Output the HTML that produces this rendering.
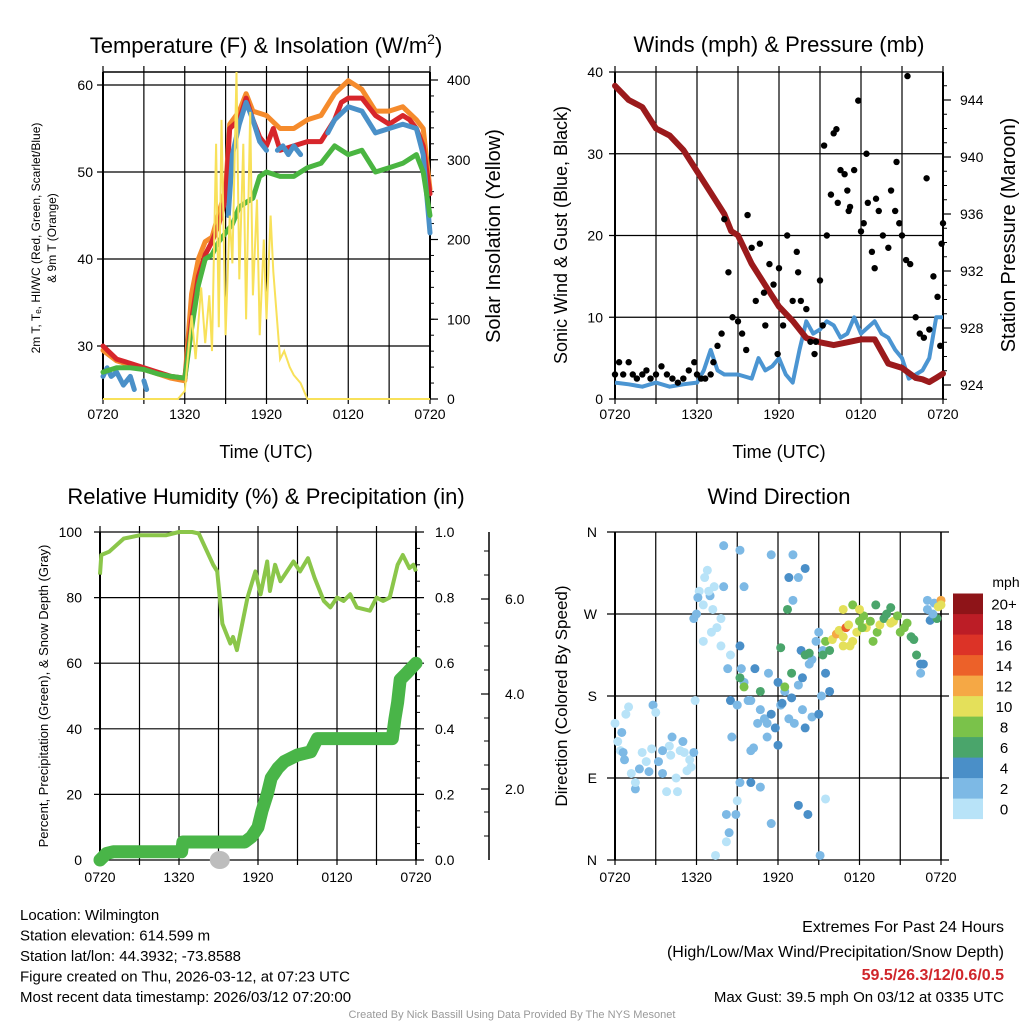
<!DOCTYPE html>
<html><head><meta charset="utf-8"><style>
html,body{margin:0;padding:0;background:#fff}
svg{display:block;font-family:"Liberation Sans",Arial,sans-serif}
</style></head><body>
<svg id="s" width="1024" height="1024" viewBox="0 0 1024 1024">
<g id="g"></g>
</svg>
<script>
// ---------- DATA ----------
const xTicks=["0720","1320","1920","0120","0720"];
// Temperature panel (hour since 0720, value)
const redH=[0,1,2,3,4,5,6,6.5,7,7.5,8,8.5,9,9.3,10,10.5,11,11.5,12,12.5,13,14,15,16,17,17.5,18,19,20,21,22,22.5,23,23.5,24];
const redV=[30,28.5,28,27.5,27,26.5,26.3,33,38,40.5,42,44,47,55,56,58.5,56,54,53,55,52.5,53,53.5,53.5,56,58,58.5,58.5,56.5,55.5,56.5,56,55,53,47.5];
const orgH=[0,1,2,3,4,5,6,6.5,7,7.5,8,9,9.3,10,10.5,11,12,13,14,15,16,17,18,19,20,21,22,23,23.5,24];
const orgV=[29.5,28.3,27.8,27.3,26.8,26.3,26,36,40,42,42.5,48,55.5,57,59,57,56.5,55,55,56,56.5,59,60.5,59.5,57,57,57.5,56,55,48];
const grnH=[0,1,2,3,4,5,6,6.5,7,7.5,8,8.5,9,9.5,10,11,11.5,12,13,14,15,16,17,18,19,20,21,22,23,23.5,24];
const grnV=[27,27.5,27.5,27.3,26.8,26.5,26.3,32,37,40,40.5,42,43,44,46,47,49.5,50,49.5,49.5,50.5,51,53,52,52.5,50,50.5,51,52,50,45];
const bluH=[0,0.3,0.6,1,1.5,2,2.3,null,3,3.2,null,9.2,9.5,10,10.5,11,11.5,12,null,12.8,13.2,13.6,14,14.5,null,16.5,17,18,19,20,21,22,23,23.5,24];
const bluV=[26.5,27.5,26.5,27,25.5,26.5,25,null,26,25,null,45,52,55.5,58,56,53.5,52.5,null,52.5,53,52,53,52,null,54.5,56,57.5,57,54.5,55,55.5,55,52,43];
const solH=[0,5.5,6,6.5,6.8,7.2,7.5,7.8,8,8.3,8.5,8.7,9,9.3,9.5,9.8,10,10.3,10.5,10.8,11,11.3,11.5,11.8,12,12.3,12.5,13,13.3,13.7,14,14.5,15,24];
const solV=[0,0,10,105,50,140,70,130,60,320,90,350,80,230,170,410,150,320,100,360,130,250,80,200,100,230,160,50,60,40,30,20,0,0];
// Winds panel
const windH=[0,1,2,3,4,5,6,6.5,7,7.5,8,9,10,10.5,11,11.5,12,12.5,13,13.5,14,14.5,15,15.5,16,16.5,17,17.5,18,19,19.5,20,20.5,21,21.5,22,22.5,23,23.5,24];
const windV=[2,1.8,1.5,2,1.5,1.8,2,3.5,6,3.5,3,3,2.5,5,3.5,4,5,3,2,6,9.5,8,8.5,9.5,9,7.5,8,10,8,9.5,8,7.5,6,5,2.5,3,3.5,5,10,10];
const gustH=[0,0.3,0.6,1,1.3,1.6,2,2.3,2.6,3,3.4,3.8,4.2,4.6,5,5.4,5.8,6,6.3,6.6,7,7.2,7.5,7.8,8,8.3,8.6,9,9.3,9.6,10,10.3,10.6,11,11.3,11.6,12,12.3,12.6,13,13.3,13.6,14,14.3,14.6,15,15.2,15.5,15.8,16,16.2,16.5,16.8,17,17.2,17.5,17.8,18,18.2,18.5,18.8,19,19.3,19.6,20,20.2,20.5,20.8,21,21.3,21.6,22,22.3,22.6,23,23.3,23.6,23.9,24,15.3,16.3,17.1,18.4,19.1,20.6,21.4,22.8,23.8,9.7,11.9,13.4,14.7,10.9];
const gustV=[3,4.5,3,4.5,3,2.5,3,3.5,2.5,3,4,3,2.5,2,2.5,3.5,4.5,3,2.5,2.5,3,4.5,6.5,8,22,15.5,10,9.5,8,6,18.5,12,19,9,16.5,14,16,9,20,12,18,12,11,7,5.5,14.5,9,20,25,32.5,33,28,27.5,25.5,23.5,28,36.5,20.5,21.5,24,18,16,23,20,18.5,25.5,23,21.5,20,17,16.5,10,8,7.5,8.5,15,12.5,19,21.5,31,24,23,30,24.5,29,39.5,27,6.5,22.5,5.5,15.5,7,13];
const presH=[0,1,2,3,4,5,6,7,8,8.5,9,10,11,12,13,14,15,16,17,18,19,20,21,22,22.5,23,23.5,24];
const presV=[945,944,943.5,942,941.5,940.5,939,937.5,936,934.8,934.5,932.5,931,929.5,928.5,927.3,927,926.8,927,927.2,927.2,925.5,925.2,924.5,924.4,924.2,924.5,924.8];
// RH / precip panel
const rhH=[0,0.1,0.7,1.8,3,5,6,7,7.5,8.6,8.9,9.3,9.9,10.1,10.4,11.2,11.8,12.2,12.7,12.9,13.3,13.7,14.2,14.7,15.2,15.8,16.3,17,17.5,18,18.5,19,19.5,20.5,21,21.5,22,22.6,23,23.5,23.8,24];
const rhV=[87,93,94,98,99,99,100,100,99.5,90,88,72,66,68,64,80,88,81,91,82,90,85,88,91,88,92,86,79,77,80,79,81,77,76,80,79,80,90,93,89,90,88];
const prH=[0,0.5,1,6.2,6.3,11,11.5,12,12.3,12.7,13,13.5,14,15,16,16.5,22.2,22.4,22.6,22.8,23.3,24];
const prV=[0,0.02,0.025,0.025,0.055,0.055,0.07,0.1,0.15,0.2,0.25,0.28,0.3,0.32,0.33,0.37,0.37,0.43,0.48,0.55,0.57,0.6];
const snowH=[9.1], snowV=[0];
// Wind direction panel
const dirH=[0,0.2,0.4,0.6,0.8,1,0.5,1.2,1.5,1.8,2,2.3,2.8,3,2.5,3.2,3.5,3.8,4,4.2,4.5,4.6,4.8,5,5.3,5.5,5.1,5.8,5.9,1.5,2.7,3.5,0.7,4.1,5.6,
5.8,6,6.2,6.1,6.5,6.6,6.8,7,7.2,7.5,7.8,7.1,6.5,7.8,8,7.3,6.9,8.5,8.3,8,9.2,9.5,11.5,13.1,13.5,13.1,12.8,14,
8.5,9,9.2,9.3,9.5,9.8,10,10.3,10.5,10.7,11,11.2,11.5,11.8,11.3,12,12.2,12.5,12.8,12.3,13,13.2,13.5,13.8,14,14.5,14.8,15,15.3,13.7,13.8,14.3,15.5,15.8,15.2,14.5,15,8.6,10,10.2,11.2,12,9.2,10,10.7,13.5,14.2,15.5,8.2,8.9,8.4,8.2,9,7.4,11.5,15.1,
9.2,9.5,12.5,13,14,10.7,12.7,12.2,14.3,
15.3,15.5,16,16.3,16.5,16.8,17,17.2,17.5,17.8,18,18.3,18.5,18.8,19,19.3,19.5,19.8,20,20.3,20.5,20.8,21,21.3,21.5,21.8,22,22.2,17.5,18,16.8,15.8,16.8,17.3,18.2,19.2,20.3,22.5,22.7,22.5,23,23.2,23.5,23.8,24,23.7,24,23.4,23];
const dirV=[150,130,120,118,160,168,140,95,78,100,118,108,170,162,97,108,95,75,125,135,90,75,120,130,98,110,118,118,175,85,122,120,110,115,102,
265,270,295,288,280,310,318,290,275,255,265,250,240,235,345,300,295,225,210,300,340,300,335,335,310,285,310,320,
175,170,235,210,195,175,175,210,150,165,155,150,160,145,205,195,170,185,155,172,178,150,192,165,145,220,240,250,230,230,200,215,205,185,180,157,160,135,120,123,135,126,85,85,80,60,50,67,50,50,30,20,65,5,40,5,
200,190,190,205,225,185,275,233,227,
225,240,242,248,252,245,255,258,240,250,262,268,255,262,240,250,258,265,270,277,262,268,250,255,260,245,242,225,280,275,275,230,235,235,255,280,260,215,215,205,275,263,282,278,285,265,280,270,285];
const dirS=[1,1,1,2,1,0,2,1,2,2,0,1,2,1,2,3,2,0,0,2,0,1,1,2,1,0,1,3,0,1,1,2,3,0,1,
2,3,1,2,0,0,1,2,0,0,0,1,1,0,2,0,1,1,2,3,2,3,2,2,2,3,4,4,
4,2,4,2,3,3,3,4,2,3,2,3,4,4,3,4,2,2,3,4,4,2,3,2,4,2,2,3,2,4,4,3,4,4,3,3,4,3,2,2,2,4,2,4,2,4,4,1,2,2,2,1,1,1,2,2,
7,8,8,6,6,6,6,7,6,
6,8,10,12,10,10,14,10,10,10,8,8,10,8,8,8,10,6,6,6,10,8,8,8,8,6,6,6,8,10,10,6,10,10,8,6,10,4,4,3,3,4,2,10,13,7,10,3,3];
const cbLabels=["0","2","4","6","8","10","12","14","16","18","20+"];
const cbColors=["#b8e3f8","#7db9e5","#4a8fc8","#4aa56b","#7ac24a","#e4e05a","#f5a845","#ec6129","#dc3327","#bc1d26","#8e1418"];

// ---------- DRAW ----------
const NS="http://www.w3.org/2000/svg";
const G=document.getElementById('g');
function el(t,a,p){const e=document.createElementNS(NS,t);for(const k in a)e.setAttribute(k,a[k]);(p||G).appendChild(e);return e;}
function txt(x,y,s,size,anchor,rot,fill,name){const e=el('text',{x:x,y:y,'font-size':size,'text-anchor':anchor||'middle',fill:fill||'#000'});
 if(rot)e.setAttribute('transform','rotate('+rot+' '+x+' '+y+')');e.textContent=s;
 
 
 return e;}
function path(H,V,sx,sy){let d='',pen=false;for(let i=0;i<H.length;i++){if(H[i]===null||V[i]===null){pen=false;continue;}d+=(pen?'L':'M')+sx(H[i]).toFixed(1)+' '+sy(V[i]).toFixed(1);pen=true;}return d;}
function line(x1,y1,x2,y2,w,c){return el('line',{x1:x1,y1:y1,x2:x2,y2:y2,stroke:c||'#000','stroke-width':w||1});}
function xaxis(x0,x1,y0,y1){for(let i=0;i<=8;i++){const x=x0+(x1-x0)*i/8;line(x,y0-6,x,y1+5,1.2);}
 xTicks.forEach((t,i)=>{const x=x0+(x1-x0)*i/4;txt(x,y1+20,t,14,'middle',0,'#000','x-tick-label');});}

// Panel 1: Temperature
(function(){const x0=103,x1=430,yt=72,yb=399;
 const sx=h=>x0+(x1-x0)*h/24, sy=v=>346-(v-30)*8.7, sr=v=>399-v*0.7975;
 const p=el('g',{});
 xaxis(x0,x1,yt,yb);
 [30,40,50,60].forEach(v=>{line(x0-6,sy(v),x1,sy(v),1.2);txt(x0-10,sy(v)+5,String(v),14,'end',0,'#000','y-tick-label');});
 [0,100,200,300,400].forEach(v=>{line(x1,sr(v),x1+8,sr(v),1.2);txt(x1+17,sr(v)+5,String(v),14,'start',0,'#000','y2-tick-label');});
 for(let v=20;v<410;v+=20)line(x1,sr(v),x1+4,sr(v),1);
 line(x0,yt,x1,yt,1.5);line(x0,yt,x0,yb,2);line(x1,yt,x1,yb,2);line(x0,yb,x1,yb,1.2);
 const ser=[[orgH,orgV,'#f58b2c','orange-9m-temp'],[redH,redV,'#d7262b','red-2m-temp'],[bluH,bluV,'#4a90c8','blue-heat-index'],[grnH,grnV,'#4ab541','green-dewpoint']];
 ser.forEach(s=>{const e=el('path',{d:path(s[0],s[1],sx,sy),fill:'none',stroke:s[2],'stroke-width':5,'stroke-linejoin':'round','stroke-linecap':'round'});
  });
 const y=el('path',{d:path(solH,solV,sx,sr),fill:'none',stroke:'#f8e15a','stroke-width':2});
 
 txt(266,53,'Temperature (F) & Insolation (W/m',22,'middle',0,'#000','panel-title').innerHTML='Temperature (F) &amp; Insolation (W/m<tspan font-size="14" dy="-9">2</tspan><tspan dy="9">)</tspan>';
 txt(266,458,'Time (UTC)',18,'middle',0,'#000','x-axis-title');
 txt(40,238,'2m T, T\u2091, HI/WC (Red, Green, Scarlet/Blue)',12,'middle',-90,'#000','y-axis-title');
 txt(56,238,'& 9m T (Orange)',12,'middle',-90,'#000','y-axis-title-2');
 txt(500,236,'Solar Insolation (Yellow)',20,'middle',-90,'#000','y2-axis-title');
})();

// Panel 2: Winds
(function(){const x0=615,x1=943,yt=72,yb=399;
 const sx=h=>x0+(x1-x0)*h/24, sy=v=>399-v*8.175, sp=v=>385-(v-924)*14.25;
 xaxis(x0,x1,yt,yb);
 [0,10,20,30,40].forEach(v=>{line(x0-6,sy(v),x1,sy(v),1.2);txt(x0-12,sy(v)+5,String(v),14,'end',0,'#000','y-tick-label');});
 [924,928,932,936,940,944].forEach(v=>{line(x1,sp(v),x1+8,sp(v),1.2);txt(x1+17,sp(v)+5,String(v),14,'start',0,'#000','y2-tick-label');});
 for(let v=923;v<946;v++)line(x1,sp(v),x1+4,sp(v),1);
 line(x0,yt,x0,yb,2);line(x1,yt,x1,yb,2);
 const w=el('path',{d:path(windH,windV,sx,sy),fill:'none',stroke:'#4b95d2','stroke-width':4,'stroke-linejoin':'round'});
 
 const pr=el('path',{d:path(presH,presV,sx,sp),fill:'none',stroke:'#9b1a1c','stroke-width':6,'stroke-linejoin':'round','stroke-linecap':'round'});
 
 gustH.forEach((h,i)=>{const c=el('circle',{cx:sx(h),cy:sy(gustV[i]),r:3.2,fill:'#000'});
  });
 txt(779,52,'Winds (mph) & Pressure (mb)',22,'middle',0,'#000','panel-title');
 txt(779,458,'Time (UTC)',18,'middle',0,'#000','x-axis-title');
 txt(567,235,'Sonic Wind & Gust (Blue, Black)',18,'middle',-90,'#000','y-axis-title');
 txt(1015,235,'Station Pressure (Maroon)',20,'middle',-90,'#000','y2-axis-title');
})();

// Panel 3: RH
(function(){const x0=100,x1=416,yt=532,yb=860;
 const sx=h=>x0+(x1-x0)*h/24, sy=v=>860-v*3.28, sz=v=>860-v*328;
 for(let i=0;i<=8;i++){const x=x0+(x1-x0)*i/8;line(x,yt-6,x,yb+5,1.2);}
 xTicks.forEach((t,i)=>txt(x0+(x1-x0)*i/4,882,t,14,'middle',0,'#000','x-tick-label'));
 [0,20,40,60,80,100].forEach(v=>{line(x0-6,sy(v),x1+8,sy(v),1.2);txt(x0-18,sy(v)+5,String(v),14,'end',0,'#000','y-tick-label');txt(x1+19,sy(v)+5,(v/100).toFixed(1),14,'start',0,'#000','y2-tick-label');});
 for(let v=0;v<=100;v+=5)line(x1,sy(v),x1+4,sy(v),1);
 line(x0,yt,x0,yb,2);line(x1,yt,x1,yb,2);
 line(489,532,489,860,1.5);
 [[599,'6.0'],[694,'4.0'],[789,'2.0']].forEach(a=>{line(481,a[0],489,a[0],1.2);txt(505,a[0]+5,a[1],14,'start',0,'#000','y3-tick-label');});
 [551,575,623,646,670,718,741,765,812,836].forEach(y=>line(484,y,489,y,1));
 const r=el('path',{d:path(rhH,rhV,sx,sy),fill:'none',stroke:'#8bc64a','stroke-width':4,'stroke-linejoin':'round'});
 
 snowH.forEach((h,i)=>{const c=el('ellipse',{cx:sx(h),cy:sz(snowV[i]),rx:10,ry:9,fill:'#bdbdbd'});});
 const p=el('path',{d:path(prH,prV,sx,sz),fill:'none',stroke:'#49b548','stroke-width':13,'stroke-linejoin':'round','stroke-linecap':'round'});
 
 txt(266,504,'Relative Humidity (%) & Precipitation (in)',22,'middle',0,'#000','panel-title');
 txt(48,696,'Percent, Precipitation (Green), & Snow Depth (Gray)',13,'middle',-90,'#000','y-axis-title');
})();

// Panel 4: wind direction
(function(){const x0=615,x1=941,yt=532,yb=860;
 const sx=h=>x0+(x1-x0)*h/24, sy=v=>860-v*328/360;
 for(let i=0;i<=8;i++){const x=x0+(x1-x0)*i/8;line(x,yt,x,yb+5,1.2);}
 xTicks.forEach((t,i)=>txt(x0+(x1-x0)*i/4,882,t,14,'middle',0,'#000','x-tick-label'));
 ['N','E','S','W','N'].forEach((t,i)=>{const y=sy(i*90);line(x0-8,y,x1+8,y,1.2);txt(x0-18,y+5,t,14,'end',0,'#000','y-tick-label');});
 line(x0,yt,x0,yb,2);line(x1,yt,x1,yb,1.5);
 dirH.forEach((h,i)=>{const c=el('circle',{cx:sx(h),cy:sy(dirV[i]),r:4.5,fill:cbColors[Math.min(10,Math.floor(dirS[i]/2))]});
  });
 cbColors.forEach((c,i)=>{const y=819-(i+1)*20.5;const r=el('rect',{x:953,y:y,width:30,height:20.6,fill:c});
  
  txt(1004,y+16,cbLabels[i],15,'middle',0,'#000','colorbar-label');});
 txt(1006,587,'mph',14,'middle',0,'#000','colorbar-title');
 txt(779,504,'Wind Direction',22,'middle',0,'#000','panel-title');
 txt(567,696,'Direction (Colored By Speed)',17,'middle',-90,'#000','y-axis-title');
})();

// Footer
['Location: Wilmington','Station elevation: 614.599 m','Station lat/lon: 44.3932; -73.8588','Figure created on Thu, 2026-03-12, at 07:23 UTC','Most recent data timestamp: 2026/03/12 07:20:00'].forEach((s,i)=>txt(20,920+i*20.5,s,15,'start',0,'#000','station-info'));
txt(1004,932,'Extremes For Past 24 Hours',16,'end',0,'#000','extremes-title');
txt(1004,957,'(High/Low/Max Wind/Precipitation/Snow Depth)',16,'end',0,'#000','extremes-subtitle');
const ex=txt(1004,980,'59.5/26.3/12/0.6/0.5',16,'end',0,'#d0262b','extremes-values');ex.setAttribute('font-weight','bold');
txt(1004,1002,'Max Gust: 39.5 mph On 03/12 at 0335 UTC',15,'end',0,'#000','max-gust');
txt(512,1018,'Created By Nick Bassill Using Data Provided By The NYS Mesonet',11,'middle',0,'#999','credit');
</script>
</body></html>
